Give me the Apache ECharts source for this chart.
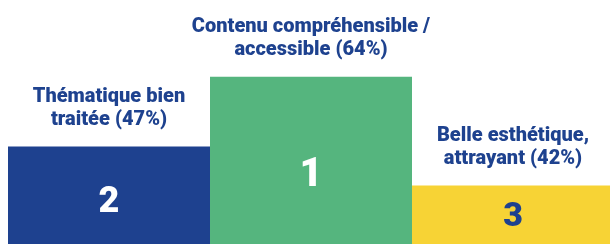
<!DOCTYPE html>
<html>
<head>
<meta charset="utf-8">
<script src="https://cdn.jsdelivr.net/npm/echarts@6/dist/echarts.min.js"></script>
<style>
  html, body { margin: 0; padding: 0; background: #fff; overflow: hidden; }
  /* a little wider than the window: the last step is cut by the right edge */
  #podium { width: 614px; height: 244px; }
</style>
</head>
<body>
<div id="podium"></div>
<script>
// podium steps, left to right
const categories = ['Thématique bien\ntraitée (47%)', 'Contenu compréhensible /\naccessible (64%)', 'Belle esthétique,\nattrayant (42%)']
const percents = [47, 64, 42]
const ranks = [2, 1, 3]
// step height, as share of the chart height
const stepHeights = [40, 68.5, 24]

const colors = ['#1e418f', '#55b57e', '#f7d335']
const numColors = ['#ffffff', '#ffffff', '#1e418f']
const numSizes = [36, 40, 34]
const numOffsets = [8, 16, 3]

let chart = echarts.init(document.getElementById('podium'))

chart.setOption({
  animation: false,
  grid: { left: 8, right: 0, top: 0, bottom: 0 },
  xAxis: {
    type: 'category',
    data: categories,
    show: false
  },
  yAxis: {
    type: 'value',
    min: 0,
    max: 100,
    show: false
  },
  series: [
    {
      type: 'bar',
      barWidth: '100%',
      barGap: '-100%',
      data: stepHeights.map((v, i) => ({
        value: v,
        itemStyle: { color: colors[i] },
        label: {
          show: true,
          position: 'inside',
          offset: [0, numOffsets[i]],
          formatter: String(ranks[i]),
          color: numColors[i],
          fontSize: numSizes[i],
          fontWeight: 900,
          fontFamily: 'Roboto'
        }
      }))
    },
    {
      // text above each step
      type: 'bar',
      barWidth: '100%',
      barGap: '-100%',
      silent: true,
      itemStyle: { color: 'transparent' },
      data: stepHeights,
      label: {
        show: true,
        position: 'top',
        distance: 15,
        formatter: p => p.name,
        color: '#1e428f',
        fontSize: 20,
        lineHeight: 23,
        fontWeight: 900,
        fontFamily: 'Roboto',
        align: 'center'
      }
    }
  ]
})
</script>
</body>
</html>
